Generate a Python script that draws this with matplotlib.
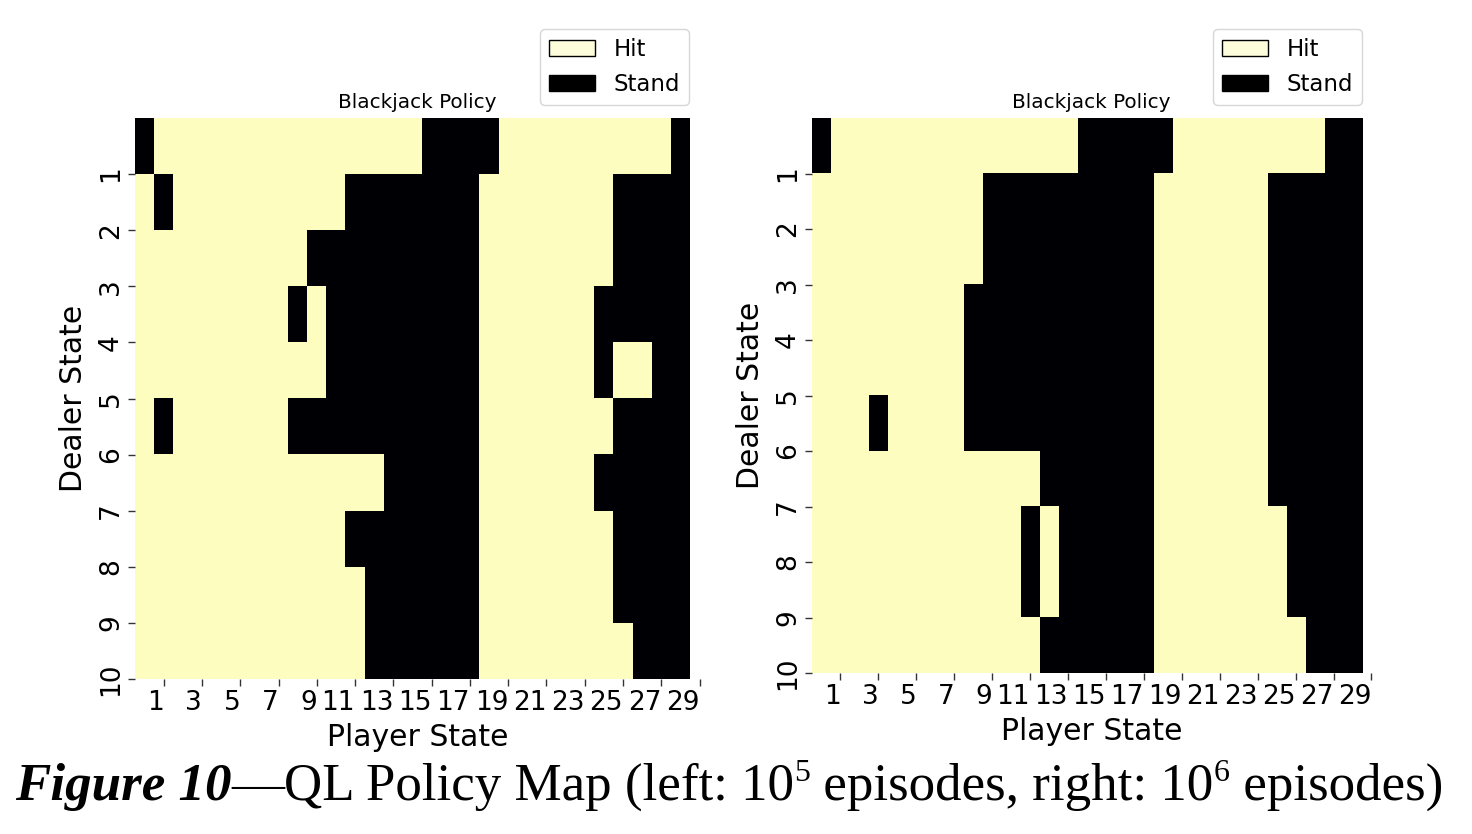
import matplotlib
matplotlib.use("Agg")
import matplotlib.pyplot as plt
from matplotlib.colors import ListedColormap
from matplotlib.patches import Patch
import numpy as np

# policy grids: rows = dealer state 1..10, cols = player state, 1 = Stand, 0 = Hit
policy_left = [
    [1, 0, 0, 0, 0, 0, 0, 0, 0, 0, 0, 0, 0, 0, 0, 1, 1, 1, 1, 0, 0, 0, 0, 0, 0, 0, 0, 0, 1],
    [0, 1, 0, 0, 0, 0, 0, 0, 0, 0, 0, 1, 1, 1, 1, 1, 1, 1, 0, 0, 0, 0, 0, 0, 0, 1, 1, 1, 1],
    [0, 0, 0, 0, 0, 0, 0, 0, 0, 1, 1, 1, 1, 1, 1, 1, 1, 1, 0, 0, 0, 0, 0, 0, 0, 1, 1, 1, 1],
    [0, 0, 0, 0, 0, 0, 0, 0, 1, 0, 1, 1, 1, 1, 1, 1, 1, 1, 0, 0, 0, 0, 0, 0, 1, 1, 1, 1, 1],
    [0, 0, 0, 0, 0, 0, 0, 0, 0, 0, 1, 1, 1, 1, 1, 1, 1, 1, 0, 0, 0, 0, 0, 0, 1, 0, 0, 1, 1],
    [0, 1, 0, 0, 0, 0, 0, 0, 1, 1, 1, 1, 1, 1, 1, 1, 1, 1, 0, 0, 0, 0, 0, 0, 0, 1, 1, 1, 1],
    [0, 0, 0, 0, 0, 0, 0, 0, 0, 0, 0, 0, 0, 1, 1, 1, 1, 1, 0, 0, 0, 0, 0, 0, 1, 1, 1, 1, 1],
    [0, 0, 0, 0, 0, 0, 0, 0, 0, 0, 0, 1, 1, 1, 1, 1, 1, 1, 0, 0, 0, 0, 0, 0, 0, 1, 1, 1, 1],
    [0, 0, 0, 0, 0, 0, 0, 0, 0, 0, 0, 0, 1, 1, 1, 1, 1, 1, 0, 0, 0, 0, 0, 0, 0, 1, 1, 1, 1],
    [0, 0, 0, 0, 0, 0, 0, 0, 0, 0, 0, 0, 1, 1, 1, 1, 1, 1, 0, 0, 0, 0, 0, 0, 0, 0, 1, 1, 1],
]

policy_right = [
    [1, 0, 0, 0, 0, 0, 0, 0, 0, 0, 0, 0, 0, 0, 1, 1, 1, 1, 1, 0, 0, 0, 0, 0, 0, 0, 0, 1, 1],
    [0, 0, 0, 0, 0, 0, 0, 0, 0, 1, 1, 1, 1, 1, 1, 1, 1, 1, 0, 0, 0, 0, 0, 0, 1, 1, 1, 1, 1],
    [0, 0, 0, 0, 0, 0, 0, 0, 0, 1, 1, 1, 1, 1, 1, 1, 1, 1, 0, 0, 0, 0, 0, 0, 1, 1, 1, 1, 1],
    [0, 0, 0, 0, 0, 0, 0, 0, 1, 1, 1, 1, 1, 1, 1, 1, 1, 1, 0, 0, 0, 0, 0, 0, 1, 1, 1, 1, 1],
    [0, 0, 0, 0, 0, 0, 0, 0, 1, 1, 1, 1, 1, 1, 1, 1, 1, 1, 0, 0, 0, 0, 0, 0, 1, 1, 1, 1, 1],
    [0, 0, 0, 1, 0, 0, 0, 0, 1, 1, 1, 1, 1, 1, 1, 1, 1, 1, 0, 0, 0, 0, 0, 0, 1, 1, 1, 1, 1],
    [0, 0, 0, 0, 0, 0, 0, 0, 0, 0, 0, 0, 1, 1, 1, 1, 1, 1, 0, 0, 0, 0, 0, 0, 1, 1, 1, 1, 1],
    [0, 0, 0, 0, 0, 0, 0, 0, 0, 0, 0, 1, 0, 1, 1, 1, 1, 1, 0, 0, 0, 0, 0, 0, 0, 1, 1, 1, 1],
    [0, 0, 0, 0, 0, 0, 0, 0, 0, 0, 0, 1, 0, 1, 1, 1, 1, 1, 0, 0, 0, 0, 0, 0, 0, 1, 1, 1, 1],
    [0, 0, 0, 0, 0, 0, 0, 0, 0, 0, 0, 0, 1, 1, 1, 1, 1, 1, 0, 0, 0, 0, 0, 0, 0, 0, 1, 1, 1],
]

actions = ["Hit", "Stand"]
player_ticks = [str(v) for v in range(1, 30, 2)]
dealer_ticks = [str(v) for v in range(1, 11)]

caption = [
    ("Figure 10", "head"),
    ("\u2014QL Policy Map (left: 10", "body"),
    ("5", "sup"),
    (" episodes, right: 10", "body"),
    ("6", "sup"),
    (" episodes)", "body"),
]

HIT = "#fcfdbf"
STAND = "#000004"
W, H = 1472, 834

fig = plt.figure(figsize=(W / 100, H / 100), dpi=100)


def px_axes(left, top, right, bottom):
    return fig.add_axes([left / W, 1 - bottom / H, (right - left) / W, (bottom - top) / H])


def draw_policy(ax, grid, legend_xy):
    grid = np.array(grid)
    nrow, ncol = grid.shape
    ax.imshow(grid, cmap=ListedColormap([HIT, STAND]), vmin=0, vmax=1,
              aspect="auto", interpolation="nearest",
              extent=(0, ncol, nrow, 0))
    ax.set_xlim(0, ncol + 0.5)
    ax.set_ylim(nrow, 0)
    for sp in ax.spines.values():
        sp.set_visible(False)
    ax.set_xticks(np.arange(1.5, ncol + 1, 2))
    ax.set_xticklabels(player_ticks, ha="right", fontsize=19)
    ax.set_yticks(np.arange(1, nrow + 1))
    ax.set_yticklabels(dealer_ticks, rotation=90, va="center", fontsize=19)
    ax.tick_params(length=5, width=1, color="#333333", pad=3)
    ax.set_xlabel("Player State", fontsize=21.5, labelpad=5)
    ax.set_ylabel("Dealer State", fontsize=21.5, labelpad=7)
    ax.set_title("Blackjack Policy", fontsize=14.4, pad=7)
    handles = [Patch(facecolor="#fdfddc", edgecolor="black", label=actions[0]),
               Patch(facecolor="black", edgecolor="black", label=actions[1])]
    fig.legend(handles=handles, loc="lower right", fontsize=16.5,
               bbox_to_anchor=(legend_xy[0] / W, 1 - legend_xy[1] / H),
               borderaxespad=0)


ax1 = px_axes(135, 118, 135 + 29.5 * 555 / 29, 679)
draw_policy(ax1, policy_left, (689, 105))
ax2 = px_axes(812, 118, 812 + 29.5 * 550 / 29, 673)
draw_policy(ax2, policy_right, (1362, 105))

# caption, built piece by piece
serif = ["Liberation Serif", "DejaVu Serif"]
size = 38.2
fig.canvas.draw()
renderer = fig.canvas.get_renderer()
x = 15
base = 800
for txt, kind in caption:
    if kind == "head":
        t = fig.text(x / W, 1 - base / H, txt, family=serif, fontsize=size,
                     weight="bold", style="italic", va="baseline")
    elif kind == "sup":
        t = fig.text(x / W, 1 - (base - 0.36 * size * 1.389) / H, txt, family=serif,
                     fontsize=size * 0.6, va="baseline")
    else:
        t = fig.text(x / W, 1 - base / H, txt, family=serif, fontsize=size,
                     va="baseline")
    x += t.get_window_extent(renderer).width

fig.savefig("out.png", dpi=100)
